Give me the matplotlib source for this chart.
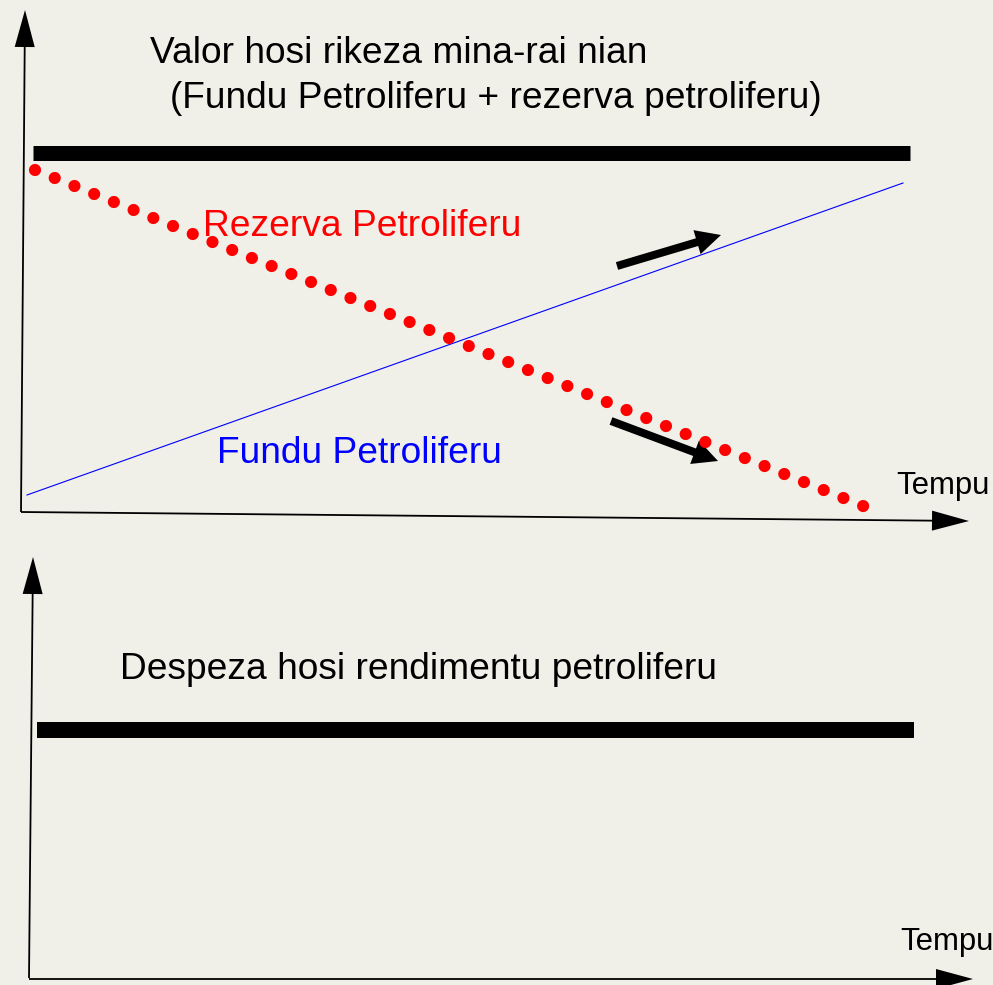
import matplotlib
matplotlib.use("Agg")
import matplotlib.pyplot as plt

# Diagram drawn in pixel space of the reference (x right, y down)
bg = "#f0efe8"

# axes of the two panels: tail (x, y) and tip (x, y)
top_yaxis = [(21, 512), (25, 10)]
top_xaxis = [(21, 512), (969, 521)]
bot_yaxis = [(29, 978), (33, 557)]
bot_xaxis = [(29, 979), (973, 979)]

# curves of the upper panel
valor_x = [33, 910]
valor_y = [153, 153]
rezerva_x = [35, 868]
rezerva_y = [170, 508]
fundu_x = [27, 903]
fundu_y = [495, 183]

# trend arrows
arrow_up = [(617, 266), (721, 235)]
arrow_down = [(611, 421), (718, 461)]

# lower panel
despeza_x = [37, 914]
despeza_y = [730, 730]

plt.rcParams['font.family'] = ['Liberation Sans', 'DejaVu Sans']

fig = plt.figure(figsize=(9.93, 9.85), dpi=100)
fig.patch.set_facecolor(bg)
ax = fig.add_axes([0, 0, 1, 1])
ax.set_facecolor(bg)
ax.set_xlim(0, 993)
ax.set_ylim(985, 0)
ax.axis('off')


def axis_arrow(seg):
    (x0, y0), (x1, y1) = seg
    ax.arrow(x0, y0, x1 - x0, y1 - y0, width=1.8, head_width=20,
             head_length=37, length_includes_head=True, color='k', lw=0)


for seg in [top_yaxis, top_xaxis, bot_yaxis, bot_xaxis]:
    axis_arrow(seg)

ax.plot(valor_x, valor_y, color='k', lw=10.8, solid_capstyle='butt')
ax.plot(despeza_x, despeza_y, color='k', lw=11.5, solid_capstyle='butt')
ax.plot(fundu_x, fundu_y, color='#0000ff', lw=0.8)
ax.plot(rezerva_x, rezerva_y, color='#ff0000', lw=8.8,
        linestyle=(0, (0.001, 1.74)), dash_capstyle='round')

for seg in [arrow_up, arrow_down]:
    (x0, y0), (x1, y1) = seg
    ax.arrow(x0, y0, x1 - x0, y1 - y0, width=8, head_width=25,
             head_length=25, length_includes_head=True, color='k', lw=0)

fs = 26.7
ax.text(150, 63, "Valor hosi rikeza mina-rai nian", fontsize=fs, va='baseline')
ax.text(170, 108, "(Fundu Petroliferu + rezerva petroliferu)", fontsize=fs, va='baseline')
ax.text(203, 236, "Rezerva Petroliferu", fontsize=fs, color='#ff0000', va='baseline')
ax.text(217, 463, "Fundu Petroliferu", fontsize=fs, color='#0000ff', va='baseline')
ax.text(896, 494, "Tempu", fontsize=22.4, va='baseline')
ax.text(120, 679, "Despeza hosi rendimentu petroliferu", fontsize=fs, va='baseline')
ax.text(900, 950, "Tempu", fontsize=22.4, va='baseline')

fig.savefig("out.png", dpi=100, facecolor=bg)
